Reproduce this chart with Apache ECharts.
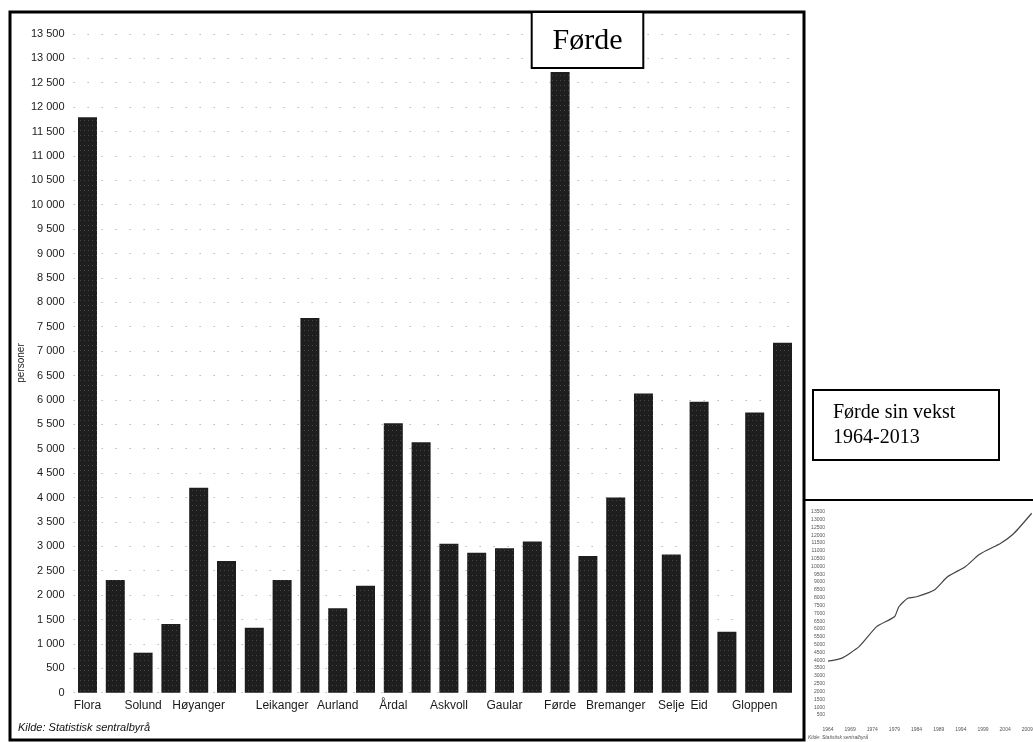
<!DOCTYPE html>
<html>
<head>
<meta charset="utf-8">
<script src="https://cdn.jsdelivr.net/npm/echarts@6/dist/echarts.min.js"></script>
<style>
html,body{margin:0;padding:0;background:#fff;}
#c{width:1033px;height:742px;}
</style>
</head>
<body>
<div id="c"></div>
<script>
// Main chart data: population per municipality (Sogn og Fjordane)
const categories = ['Flora','Gulen','Solund','Hyllestad','Høyanger','Vik','Balestrand','Leikanger','Sogndal','Aurland','Lærdal','Årdal','Luster','Askvoll','Fjaler','Gaular','Jølster','Førde','Naustdal','Bremanger','Vågsøy','Selje','Eid','Hornindal','Gloppen','Stryn'];
const tickLabels = ['Flora','','Solund','','Høyanger','','','Leikanger','','Aurland','','Årdal','','Askvoll','','Gaular','','Førde','','Bremanger','','Selje','Eid','','Gloppen',''];
const values = [11790,2310,820,1410,4200,2700,1330,2310,7680,1730,2190,5520,5130,3050,2870,2960,3100,12720,2800,4000,6130,2830,5960,1250,5740,7170];

// Inset: Førde growth 1964-2013 (read points)
const insetYears = [1964,1967,1971,1975,1979,1980,1982,1984,1988,1991,1995,1998,2000,2003,2006,2010];
const insetValues = [3950,4120,4870,6150,6780,7420,7960,8060,8490,9340,9980,10730,11050,11480,12120,13400];

const allYears = [];
for (let y = 1964; y <= 2013; y++) allYears.push(String(y));
const insetData = allYears.map(y => {
  const i = insetYears.indexOf(+y);
  return i >= 0 ? insetValues[i] : null;
});

const fmt = v => {
  const s = String(v);
  return s.length > 3 ? s.slice(0, s.length - 3) + ' ' + s.slice(-3) : s;
};

const chart = echarts.init(document.getElementById('c'));
const sans = "'Liberation Sans', Arial, sans-serif";
const serif = "'Liberation Serif', 'Times New Roman', serif";

chart.setOption({
  animation: false,
  backgroundColor: '#fff',
  grid: [
    { left: 73.6, top: 33.9, width: 722.8, height: 658.8, outerBoundsMode: 'none' },
    { left: 828, top: 511.7, width: 217, bottom: 19.2, outerBoundsMode: 'none' }
  ],
  xAxis: [
    {
      gridIndex: 0, type: 'category', data: categories,
      axisLine: { show: false }, axisTick: { show: false },
      axisLabel: {
        interval: 0, margin: 7, color: '#1a1a1a', fontSize: 12, fontFamily: sans,
        formatter: (v, i) => tickLabels[i]
      }
    },
    {
      gridIndex: 1, type: 'category', data: allYears, boundaryGap: false,
      axisLine: { show: false }, axisTick: { show: false },
      axisLabel: { interval: 4, fontSize: 5, color: '#555', margin: 4, fontFamily: sans }
    }
  ],
  yAxis: [
    {
      gridIndex: 0, type: 'value', min: 0, max: 13500, interval: 500,
      axisLine: { show: false }, axisTick: { show: false },
      axisLabel: { color: '#1a1a1a', fontSize: 11, fontFamily: sans, margin: 9, formatter: fmt },
      splitLine: { show: true, lineStyle: { color: '#999', width: 1, type: [1, 13] } }
    },
    {
      gridIndex: 1, type: 'value', min: 0, max: 13500, interval: 500,
      axisLine: { show: false }, axisTick: { show: false },
      axisLabel: { fontSize: 5, color: '#555', margin: 3, fontFamily: sans, formatter: v => v === 0 ? '' : String(v) },
      splitLine: { show: false }
    }
  ],
  series: [
    {
      type: 'bar', xAxisIndex: 0, yAxisIndex: 0, data: values, barWidth: 19,
      itemStyle: {
        color: '#1e1e1e',
        decal: { symbol: 'rect', symbolSize: 1, color: 'rgba(255,255,255,0.18)', dashArrayX: [1, 3], dashArrayY: [1, 4], rotation: 0 }
      }
    },
    {
      type: 'line', xAxisIndex: 1, yAxisIndex: 1, data: insetData, connectNulls: true,
      showSymbol: false, smooth: 0.2,
      lineStyle: { color: '#444', width: 1.2 }
    }
  ],
  graphic: [
    { type: 'rect', shape: { x: 10, y: 12, width: 794, height: 728 }, style: { fill: 'none', stroke: '#000', lineWidth: 3 }, z: 10 },
    { type: 'text', x: 21, y: 363, rotation: Math.PI / 2, style: { text: 'personer', font: '10px ' + sans, fill: '#222', align: 'center', verticalAlign: 'middle' }, z: 12 },
    { type: 'rect', shape: { x: 531.7, y: 12, width: 111.6, height: 56 }, style: { fill: '#fff', stroke: '#000', lineWidth: 2 }, z: 11 },
    { type: 'text', x: 587.5, y: 41, style: { text: 'Førde', font: '30px ' + serif, fill: '#000', align: 'center', verticalAlign: 'middle' }, z: 12 },
    { type: 'text', x: 18, y: 728, style: { text: 'Kilde: Statistisk sentralbyrå', font: 'italic 11px ' + sans, fill: '#111', verticalAlign: 'middle' }, z: 12 },
    { type: 'rect', shape: { x: 813, y: 390, width: 186, height: 70 }, style: { fill: '#fff', stroke: '#000', lineWidth: 2 }, z: 11 },
    { type: 'text', x: 833, y: 413, style: { text: 'Førde sin vekst', font: '20px ' + serif, fill: '#000', verticalAlign: 'middle' }, z: 12 },
    { type: 'text', x: 833, y: 438, style: { text: '1964-2013', font: '20px ' + serif, fill: '#000', verticalAlign: 'middle' }, z: 12 },
    { type: 'line', shape: { x1: 804, y1: 500, x2: 1033, y2: 500 }, style: { stroke: '#000', lineWidth: 2 }, z: 10 },
    { type: 'text', x: 808, y: 738, style: { text: 'Kilde: Statistisk sentralbyrå', font: 'italic 5px ' + sans, fill: '#555', verticalAlign: 'middle' }, z: 12 }
  ]
});
</script>
</body>
</html>
